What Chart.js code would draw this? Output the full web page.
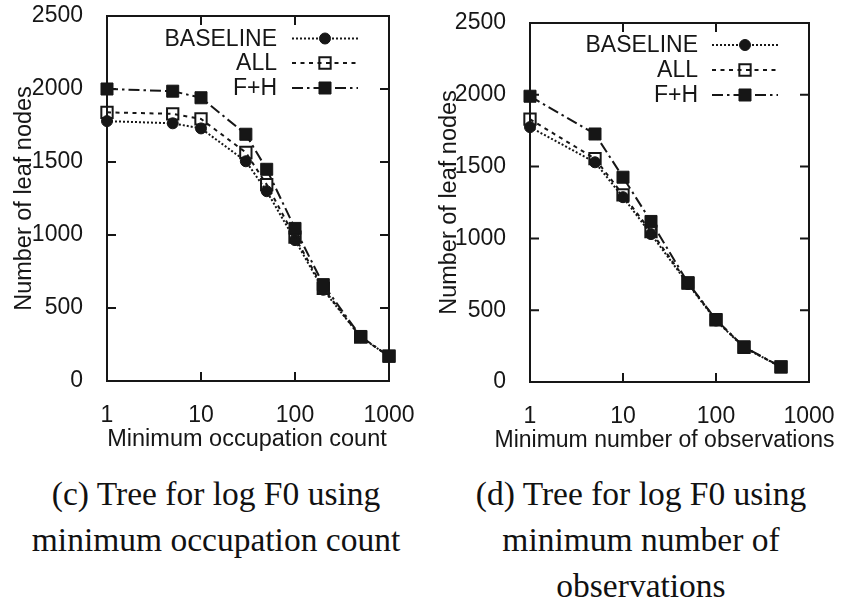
<!DOCTYPE html>
<html>
<head>
<meta charset="utf-8">
<script src="https://cdn.jsdelivr.net/npm/chart.js@4.4.1/dist/chart.umd.min.js"></script>
<style>
  html, body { margin: 0; padding: 0; background: #fff; width: 846px; height: 607px; overflow: hidden; }
  .panel { position: absolute; top: 0; width: 423px; height: 460px; }
  .cap { position: absolute; top: 471px; width: 400px; font-family: "Liberation Serif", serif; font-size: 33.5px;
         line-height: 46px; text-align: center; color: #111; white-space: nowrap; }
</style>
</head>
<body>
<div class="panel" style="left:0"><canvas id="chartC" width="423" height="460"></canvas></div>
<div class="panel" style="left:423px"><canvas id="chartD" width="423" height="460"></canvas></div>
<div class="cap" style="left:16px">(c) Tree for log F0 using<br>minimum occupation count</div>
<div class="cap" style="left:441px">(d) Tree for log F0 using<br>minimum number of<br>observations</div>

<script>
// --- data ---
const seriesNames = ['BASELINE', 'ALL', 'F+H'];

// (c) minimum occupation count
const xOcc        = [1, 5, 10, 30, 50, 100, 200, 500, 1000];
const occBaseline = [1780, 1765, 1730, 1505, 1300, 965, 625, 300, 170];
const occAll      = [1840, 1830, 1795, 1565, 1345, 985, 635, 300, 170];
const occFH       = [2000, 1985, 1940, 1690, 1450, 1045, 660, 305, 170];

// (d) minimum number of observations
const xObs        = [1, 5, 10, 20, 50, 100, 200, 500];
const obsBaseline = [1775, 1530, 1287, 1030, 682, 428, 240, 105];
const obsAll      = [1830, 1555, 1303, 1048, 688, 432, 242, 105];
const obsFH       = [1990, 1727, 1426, 1118, 691, 435, 244, 105];

const xTicks = [1, 10, 100, 1000];
const yTicks = [0, 500, 1000, 1500, 2000, 2500];

// --- styling ---
const INK = '#161616';
const SANS = '"Liberation Sans", Arial, sans-serif';
const dashes  = [[2, 2], [4, 4.5], [11, 4, 2.5, 4]];
const shapes  = ['circle', 'rect', 'rect'];
const radii   = [5.5, 8, 8.5];
const fills   = [INK, 'rgba(0,0,0,0)', INK];
const pborder = [1, 2, 1];

function series(xs, ys, i) {
  return {
    label: seriesNames[i],
    data: xs.map((v, k) => ({ x: v, y: ys[k] })),
    borderColor: INK, borderWidth: 2, borderDash: dashes[i], borderCapStyle: 'butt',
    pointStyle: shapes[i], pointRadius: radii[i], pointHoverRadius: radii[i],
    pointBackgroundColor: fills[i], pointBorderColor: INK, pointBorderWidth: pborder[i],
    tension: 0, fill: false, clip: false, order: 3 - i
  };
}

// box, inward mirrored ticks, x title and a gnuplot-like key
const gnuFrame = {
  id: 'gnuFrame',
  beforeDatasetsDraw(chart) {
    const { ctx, chartArea: a, scales: { x, y } } = chart;
    const t = 9;
    ctx.save();
    ctx.strokeStyle = INK;
    ctx.lineWidth = 2;
    ctx.strokeRect(a.left, a.top, a.right - a.left, a.bottom - a.top);
    ctx.beginPath();
    xTicks.forEach(v => {
      const px = x.getPixelForValue(v);
      ctx.moveTo(px, a.bottom); ctx.lineTo(px, a.bottom - t);
      ctx.moveTo(px, a.top);    ctx.lineTo(px, a.top + t);
    });
    yTicks.forEach(v => {
      const py = y.getPixelForValue(v);
      ctx.moveTo(a.left, py);  ctx.lineTo(a.left + t, py);
      ctx.moveTo(a.right, py); ctx.lineTo(a.right - t, py);
    });
    ctx.stroke();
    ctx.restore();
  },
  afterDraw(chart, args, o) {
    const { ctx, chartArea: a } = chart;
    ctx.save();
    ctx.fillStyle = INK;
    ctx.font = o.titleSize + 'px ' + SANS;
    ctx.textAlign = 'center';
    ctx.textBaseline = 'middle';
    ctx.fillText(o.xTitle, (a.left + a.right) / 2 + o.titleShift, a.bottom + 59);

    chart.data.datasets.forEach((ds, i) => {
      const yy = o.rows[i];
      ctx.fillStyle = INK;
      ctx.font = '23px ' + SANS;
      ctx.textAlign = 'right';
      ctx.textBaseline = 'middle';
      ctx.fillText(ds.label, o.textRight, yy + 1);
      ctx.strokeStyle = INK;
      ctx.lineWidth = ds.borderWidth;
      ctx.setLineDash(ds.borderDash);
      ctx.beginPath();
      ctx.moveTo(o.sampleLeft, yy); ctx.lineTo(o.sampleRight, yy);
      ctx.stroke();
      ctx.setLineDash([]);
      ctx.fillStyle = ds.pointBackgroundColor;
      ctx.strokeStyle = INK;
      ctx.lineWidth = ds.pointBorderWidth;
      Chart.helpers.drawPoint(ctx, {
        pointStyle: ds.pointStyle, radius: ds.pointRadius, borderWidth: ds.pointBorderWidth, rotation: 0
      }, (o.sampleLeft + o.sampleRight) / 2, yy);
    });
    ctx.restore();
  }
};

function makeChart(id, xs, ys, xTitle, box) {
  return new Chart(document.getElementById(id), {
    type: 'line',
    data: { datasets: ys.map((s, i) => series(xs, s, i)) },
    options: {
      responsive: false, animation: false, events: [],
      layout: { padding: { left: box.padLeft, right: box.padRight, top: box.padTop, bottom: 6 } },
      plugins: {
        legend: { display: false }, tooltip: { enabled: false },
        gnuFrame: Object.assign({ xTitle: xTitle }, box.key)
      },
      scales: {
        x: {
          type: 'logarithmic', min: 1, max: 1000,
          grid: { display: false }, border: { display: false },
          afterBuildTicks: s => { s.ticks = xTicks.map(v => ({ value: v })); },
          afterFit: s => { s.height = box.xHeight; s.paddingLeft = 0; s.paddingRight = 0; },
          ticks: { padding: 13, color: INK, font: { family: SANS, size: 23 }, maxRotation: 0, autoSkip: false,
                   callback: v => String(v) },
          title: { display: false }
        },
        y: {
          min: 0, max: 2500,
          grid: { display: false }, border: { display: false },
          afterBuildTicks: s => { s.ticks = yTicks.map(v => ({ value: v })); },
          afterFit: s => { s.width = box.yWidth; s.paddingTop = 0; s.paddingBottom = 0; },
          ticks: { padding: 16, color: INK, font: { family: SANS, size: 23 }, callback: v => String(v) },
          title: { display: true, text: 'Number of leaf nodes', padding: 0, color: INK, font: { family: SANS, size: 23.5 } }
        }
      }
    },
    plugins: [gnuFrame]
  });
}

makeChart('chartC', xOcc, [occBaseline, occAll, occFH], 'Minimum occupation count', {
  padLeft: 10, yWidth: 97, padRight: 34, padTop: 16, xHeight: 73,
  key: { titleShift: -1, titleSize: 23.5, textRight: 277, sampleLeft: 292, sampleRight: 358, rows: [38.5, 63, 88] }
});
makeChart('chartD', xObs, [obsBaseline, obsAll, obsFH], 'Minimum number of observations', {
  padLeft: 12, yWidth: 95, padRight: 37, padTop: 23, xHeight: 72,
  key: { titleShift: -5, titleSize: 23, textRight: 275, sampleLeft: 289, sampleRight: 355, rows: [45, 70, 95] }
});
</script>
</body>
</html>
